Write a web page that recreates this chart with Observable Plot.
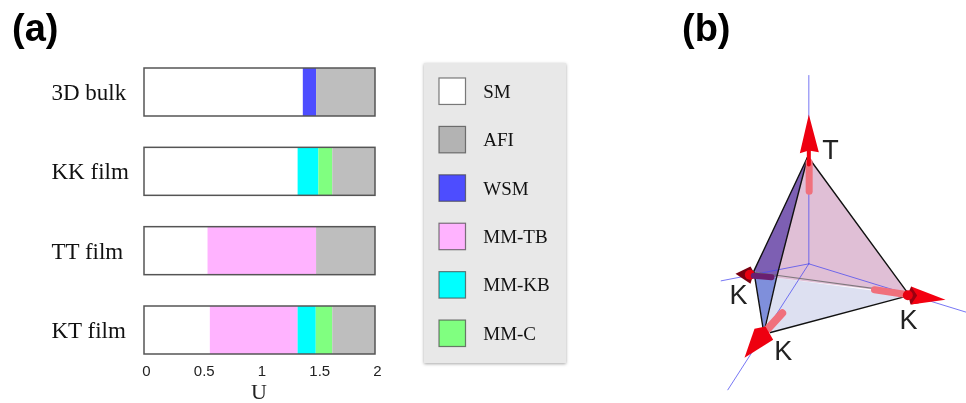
<!DOCTYPE html>
<html><head><meta charset="utf-8">
<script src="https://cdn.jsdelivr.net/npm/d3@7"></script>
<script src="https://cdn.jsdelivr.net/npm/@observablehq/plot@0.6"></script>
<style>
html,body{margin:0;padding:0;background:#fff}
#root{position:relative;width:966px;height:403px;overflow:hidden;filter:blur(.35px)}
#root>*{position:absolute}
.tag{font:bold 38px "Liberation Sans",sans-serif;line-height:38px;color:#000}
#legend{box-shadow:0 1px 3px rgba(0,0,0,.35)}
</style></head><body><div id="root"></div>
<script>
// ---- panel (a) data ----
const samples = ["3D bulk","KK film","TT film","KT film"];
const phases  = ["SM","AFI","WSM","MM-TB","MM-KB","MM-C"];
const phaseColors = ["#ffffff","#bebebe","#4d4dff","#ffb3ff","#00ffff","#80ff80"];
const swatchColors = ["#ffffff","#b3b3b3","#4d4dff","#ffb3ff","#00ffff","#80ff80"];
const bulkPhases = ["SM","WSM","AFI"];
const bulkEdges  = [0,1.375,1.49,2];
const kkPhases = ["SM","MM-KB","MM-C","AFI"];
const kkEdges  = [0,1.33,1.51,1.63,2];
const ttPhases = ["SM","MM-TB","AFI"];
const ttEdges  = [0,0.55,1.49,2];
const ktPhases = ["SM","MM-TB","MM-KB","MM-C","AFI"];
const ktEdges  = [0,0.57,1.33,1.487,1.63,2];
const xTicks = [0,0.5,1,1.5,2];
const xTickLabels = ["0","0.5","1","1.5","2"];

// ---- panel (b) data in scene units ----
const faceBack  = [[412,468],[318,832],[712,880]];
const faceFloor = [[318,832],[285,992],[300,996],[712,884]];
const facePurple= [[412,468],[250,812],[318,832]];
const faceBlue  = [[250,812],[318,832],[280,990]];
const axisUp    = [[415,225],[415,790]];
const axisLeft  = [[415,790],[152,841]];
const axisRight = [[415,790],[887,935]];
const axisFront = [[415,790],[172,1168]];
const edgeA = [[412,468],[250,812],[278,985]];
const edgeB = [[412,468],[318,832],[283,985]];
const edgeC = [[412,468],[712,878]];
const edgeD = [[300,996],[712,886]];
const edgeBack = [[250,815],[712,878]];
const shaftT = [[416,485],[416,572]];
const shaftL = [[250,826],[303,830]];
const shaftR = [[612,868],[712,883]];
const shaftF = [[335,938],[292,985]];
const stemT = [[415,445],[415,492]];
const coneT = [[415,342],[388,458],[415,450],[445,455]];
const coneL = [[195,820],[240,798],[250,815],[240,850]];
const coneR = [[825,898],[722,858],[740,885],[722,912]];
const coneF = [[222,1072],[252,985],[285,978],[308,1018]];
const rimR = [[722,858],[712,880],[720,912],[745,908],[740,870]];
const hubs = [[238,823],[712,884]];
const sceneLabels = ["T","K","K","K"];
const labelX = [480,204,714,338];
const labelY = [449,886,960,1052];

const serif = '"Liberation Serif",serif';
const sans = '"Liberation Sans",sans-serif';
const root = document.getElementById("root");

function segments(sample, names, edges){
  return names.map((p,i)=>({sample,phase:p,x1:edges[i],x2:edges[i+1]}));
}
const table = [
  ...segments(samples[0],bulkPhases,bulkEdges),
  ...segments(samples[1],kkPhases,kkEdges),
  ...segments(samples[2],ttPhases,ttEdges),
  ...segments(samples[3],ktPhases,ktEdges)
];

const chart = Plot.plot({
  width:400,height:403,marginLeft:144,marginRight:25,marginTop:68,marginBottom:49,
  style:{background:"transparent"},
  x:{domain:[0,2]},
  y:{domain:samples,paddingInner:0.395,paddingOuter:0,round:false,label:null},
  color:{domain:phases,range:phaseColors},
  marks:[
    Plot.barX(table,{x1:"x1",x2:"x2",y:"sample",fill:"phase"}),
    Plot.barX(samples,{x1:()=>0,x2:()=>2,y:d=>d,fill:"none",stroke:"#555",strokeWidth:1.5}),
    Plot.axisY({tickSize:0,textAnchor:"start",dx:-84,fontSize:23,fontFamily:serif,fill:"#111",label:null}),
    Plot.axisX({ticks:xTicks,tickFormat:(d,i)=>xTickLabels[i],tickSize:0,dx:2,dy:2,fontSize:15,fontFamily:sans,fill:"#222",label:null}),
    Plot.text(["U"],{frameAnchor:"bottom",dy:44,dx:-1,text:d=>d,fontSize:22,fontFamily:serif,fill:"#222"})
  ]
});
chart.style.left="0";chart.style.top="0";
root.append(chart);

const legend = Plot.plot({
  width:142,height:300,margin:0,
  style:{background:"#e8e8e8"},
  x:{domain:["swatch"],range:[15,41.5],padding:0,round:false,axis:null},
  y:{domain:phases,range:[15,283.5],paddingInner:22/48.5,paddingOuter:0,round:false,axis:null},
  color:{domain:phases,range:swatchColors},
  marks:[
    Plot.cell(phases,{x:()=>"swatch",y:d=>d,fill:d=>d,stroke:"#444",strokeOpacity:.7,strokeWidth:1.2,inset:0}),
    Plot.text(phases,{x:()=>"swatch",y:d=>d,text:d=>d,textAnchor:"start",dx:30.5,fontSize:19,fontFamily:serif,fill:"#111"})
  ]
});
legend.id="legend";legend.style.left="423.5px";legend.style.top="62.5px";
root.append(legend);

const path=(pts,o)=>Plot.line(pts,{x:d=>d[0],y:d=>d[1],...o});
const blue={stroke:"#4a4af0",strokeWidth:1,strokeOpacity:.75};
const ink={stroke:"#111",strokeWidth:1.4};
const scene = Plot.plot({
  width:296,height:403,margin:0,
  style:{background:"transparent"},
  x:{domain:[0,888],axis:null},
  y:{domain:[0,1209],range:[0,403],axis:null},
  marks:[
    path(faceFloor,{fill:"#dde0f1",stroke:"none"}),
    path(faceBack,{fill:"#e0bfd6",stroke:"none"}),
    path(facePurple,{fill:"#7d5fb3",stroke:"none"}),
    path(faceBlue,{fill:"#7f8fdb",stroke:"none"}),
    path(axisUp,blue),path(axisLeft,blue),path(axisRight,blue),path(axisFront,blue),
    path(edgeBack,{stroke:"#666",strokeWidth:1.2,strokeOpacity:.8}),
    path(edgeA,ink),path(edgeB,ink),path(edgeC,ink),path(edgeD,ink),
    path(shaftT,{stroke:"#f0707c",strokeWidth:7}),
    path(shaftR,{stroke:"#f0707c",strokeWidth:7}),
    path(shaftF,{stroke:"#f0707c",strokeWidth:8}),
    path(coneL,{fill:"#7a0010",stroke:"none"}),
    path(rimR,{fill:"#9a0010",stroke:"none"}),
    path(coneR,{fill:"#f40010",stroke:"none"}),
    path(coneT,{fill:"#ee0010",stroke:"none"}),
    path(stemT,{stroke:"#ee0010",strokeWidth:4}),
    path(coneF,{fill:"#ee0010",stroke:"none"}),
    Plot.dot(hubs,{x:d=>d[0],y:d=>d[1],r:5,fill:"#e80010",stroke:"none"}),
    path(shaftL,{stroke:"#6a1f70",strokeWidth:6}),
    Plot.text(sceneLabels,{x:(d,i)=>labelX[i],y:(d,i)=>labelY[i],text:d=>d,fontSize:27,fontFamily:sans,fill:"#222"})
  ]
});
scene.style.left="670px";scene.style.top="0";
root.append(scene);

for (const [t,l,tp] of [["(a)",12,9],["(b)",682,9]]){
  const el=document.createElement("div");
  el.className="tag";el.textContent=t;el.style.left=l+"px";el.style.top=tp+"px";
  root.append(el);
}
</script></body></html>
